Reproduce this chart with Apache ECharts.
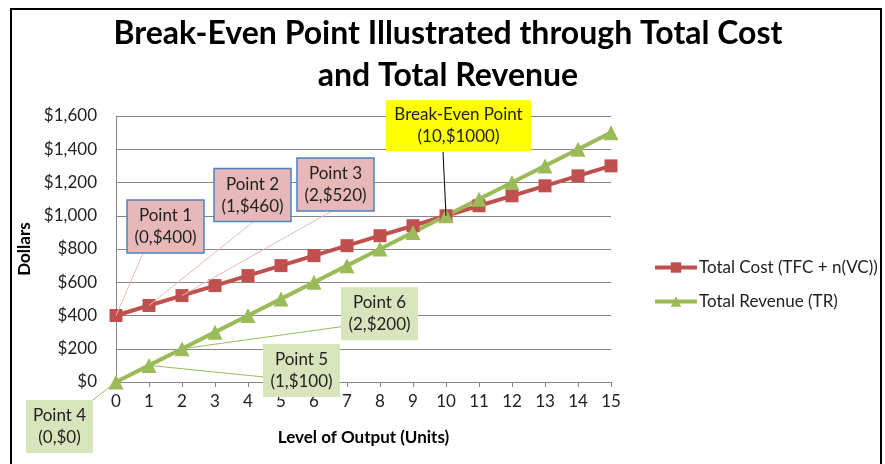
<!DOCTYPE html>
<html>
<head>
<meta charset="UTF-8">
<title>Break-Even Point</title>
<script src="https://cdn.jsdelivr.net/npm/echarts@6/dist/echarts.min.js"></script>
<style>
	html, body { margin: 0; padding: 0; background: #fff; }
	#main { width: 885px; height: 464px; }
</style>
</head>
<body>
<div id="main"></div>
<script type="text/javascript">
// data
var units = ['0','1','2','3','4','5','6','7','8','9','10','11','12','13','14','15'];
var totalCost = [400,460,520,580,640,700,760,820,880,940,1000,1060,1120,1180,1240,1300];
var totalRevenue = [0,100,200,300,400,500,600,700,800,900,1000,1100,1200,1300,1400,1500];
var seriesNames = ['Total Cost (TFC + n(VC))', 'Total Revenue (TR)'];

// callouts: which point, text, and where the box sits relative to that point
var callouts = [
	{ s: 0, i: 0, text: 'Point 1\n(0,$400)', dx: 49.5, dy: -89, w: 77, h: 53, lx: 27, ly: -62, fill: '#E6B9B8', stroke: '#4F81BD', line: '#E6B9B8' },
	{ s: 0, i: 1, text: 'Point 2\n(1,$460)', dx: 103.5, dy: -110.5, w: 77, h: 53, lx: 104, ly: -83.5, fill: '#E6B9B8', stroke: '#4F81BD', line: '#E6B9B8' },
	{ s: 0, i: 2, text: 'Point 3\n(2,$520)', dx: 153.5, dy: -111, w: 77, h: 53, lx: 148, ly: -83.5, fill: '#E6B9B8', stroke: '#4F81BD', line: '#E6B9B8' },
	{ s: 0, i: 10, text: 'Break-Even Point\n(10,$1000)', dx: 12.5, dy: -90, w: 145, h: 51, lx: -3, ly: -64, fill: '#FFFF00', stroke: null, line: '#000' },
	{ s: 1, i: 0, text: 'Point 4\n(0,$0)', dx: -56.5, dy: 44.5, w: 67, h: 53, lx: -23, ly: 18, fill: '#D7E4BC', stroke: null, line: '#9BBB59' },
	{ s: 1, i: 1, text: 'Point 5\n(1,$100)', dx: 152.5, dy: 5, w: 77, h: 53, lx: 114, ly: 11.5, fill: '#D7E4BC', stroke: null, line: '#9BBB59' },
	{ s: 1, i: 2, text: 'Point 6\n(2,$200)', dx: 197.5, dy: -35, w: 77, h: 53, lx: 159, ly: -22, fill: '#D7E4BC', stroke: null, line: '#9BBB59' }
];

var font = 'Lato, "Open Sans", sans-serif';
var myChart = echarts.init(document.getElementById('main'));

myChart.setOption({
	animation: false,
	backgroundColor: '#fff',
	title: {
		text: 'Break-Even Point Illustrated through Total Cost\nand Total Revenue',
		left: 443,
		textAlign: 'center',
		top: 8,
		textStyle: { fontFamily: font, fontSize: 32, fontWeight: 'bold', color: '#000', lineHeight: 42 }
	},
	legend: {
		orient: 'vertical',
		left: 648,
		top: 254,
		itemGap: 17,
		itemWidth: 42,
		itemHeight: 13,
		lineStyle: { width: 4 },
		textStyle: { fontFamily: font, fontSize: 17, color: '#222', padding: [0, 0, 0, -3] },
		data: seriesNames
	},
	grid: { left: 116, right: 274, top: 116, bottom: 82 },
	xAxis: {
		type: 'category',
		data: units,
		boundaryGap: false,
		name: 'Level of Output (Units)',
		nameLocation: 'middle',
		nameGap: 47,
		nameTextStyle: { fontFamily: font, fontSize: 17, fontWeight: 'bold', color: '#000' },
		axisLine: { lineStyle: { color: '#868686', width: 1 } },
		axisTick: { show: true, length: 5, lineStyle: { color: '#868686' } },
		axisLabel: { fontFamily: font, fontSize: 17, color: '#222', margin: 11 },
		splitLine: { show: false }
	},
	yAxis: {
		type: 'value',
		min: 0,
		max: 1600,
		interval: 200,
		name: 'Dollars',
		nameLocation: 'middle',
		nameGap: 80,
		nameRotate: 90,
		nameTextStyle: { fontFamily: font, fontSize: 17, fontWeight: 'bold', color: '#000' },
		axisLine: { show: true, lineStyle: { color: '#868686', width: 1 } },
		axisTick: { show: false },
		axisLabel: {
			fontFamily: font, fontSize: 17, color: '#222', margin: 19,
			formatter: function (v) { return '$' + v.toLocaleString('en-US'); }
		},
		splitLine: { lineStyle: { color: '#868686', width: 1 } }
	},
	series: [
		{
			name: seriesNames[0],
			type: 'line',
			data: totalCost,
			symbol: 'rect',
			symbolSize: 13,
			itemStyle: { color: '#C0504D' },
			lineStyle: { color: '#C0504D', width: 4 }
		},
		{
			name: seriesNames[1],
			type: 'line',
			data: totalRevenue,
			symbol: 'triangle',
			symbolSize: 15,
			itemStyle: { color: '#9BBB59' },
			lineStyle: { color: '#9BBB59', width: 4 }
		}
	]
});

// callout boxes and leader lines, anchored on the data points through the axes
var seriesData = [totalCost, totalRevenue];
var lines = [];
var boxes = [];
callouts.forEach(function (c) {
	var p = myChart.convertToPixel({ gridIndex: 0 }, [c.i, seriesData[c.s][c.i]]);
	lines.push({
		type: 'line',
		z: 20,
		shape: { x1: p[0], y1: p[1], x2: p[0] + c.lx, y2: p[1] + c.ly },
		style: { stroke: c.line, lineWidth: 1 }
	});
	boxes.push({
		type: 'rect',
		z: 30,
		shape: { x: p[0] + c.dx - c.w / 2, y: p[1] + c.dy - c.h / 2, width: c.w, height: c.h },
		style: { fill: c.fill, stroke: c.stroke || null, lineWidth: c.stroke ? 1.5 : 0 }
	});
	boxes.push({
		type: 'text',
		z: 31,
		x: p[0] + c.dx,
		y: p[1] + c.dy,
		style: {
			text: c.text,
			fontFamily: font,
			fontSize: 17,
			lineHeight: 22,
			fill: '#222',
			align: 'center',
			verticalAlign: 'middle'
		}
	});
});

myChart.setOption({
	graphic: [
		{
			type: 'rect',
			z: 50,
			silent: true,
			shape: { x: 11, y: 9, width: 870, height: 470 },
			style: { fill: null, stroke: '#000', lineWidth: 2 }
		}
	].concat(lines, boxes)
});
</script>
</body>
</html>
